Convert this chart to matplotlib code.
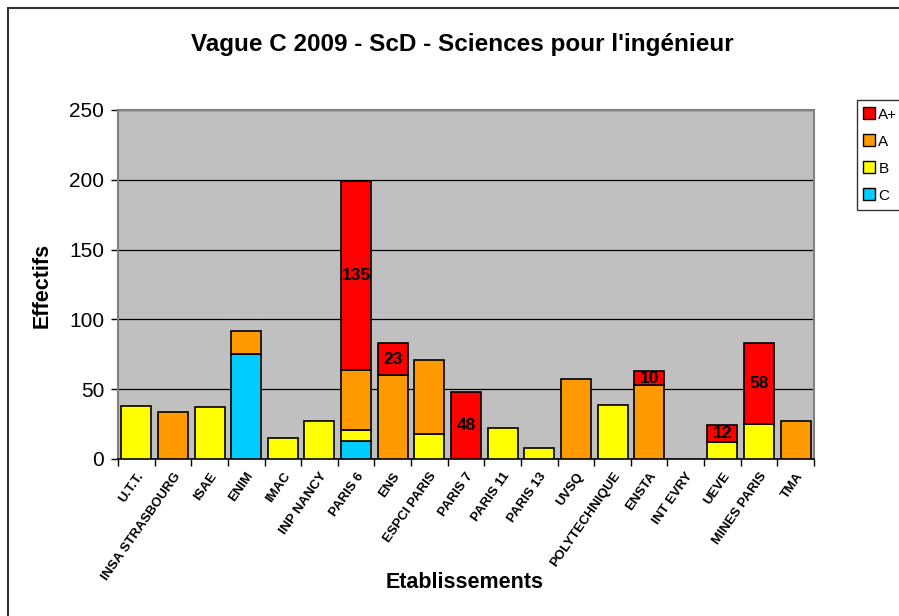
import matplotlib
matplotlib.use("Agg")
import matplotlib.pyplot as plt
import numpy as np
from matplotlib.patches import Rectangle
from matplotlib.lines import Line2D

plt.rcParams['font.family'] = ['Liberation Sans', 'DejaVu Sans']

categories = ["U.T.T.", "INSA STRASBOURG", "ISAE", "ENIM", "IMAC", "INP NANCY",
              "PARIS 6", "ENS", "ESPCI PARIS", "PARIS 7", "PARIS 11", "PARIS 13",
              "UVSQ", "POLYTECHNIQUE", "ENSTA", "INT EVRY", "UEVE", "MINES PARIS", "TMA"]
C_vals  = [0, 0, 0, 75, 0, 0, 13, 0, 0, 0, 0, 0, 0, 0, 0, 0, 0, 0, 0]
B_vals  = [38, 0, 37, 0, 15, 27, 8, 0, 18, 0, 22, 8, 0, 39, 0, 0, 12, 25, 0]
A_vals  = [0, 34, 0, 17, 0, 0, 43, 60, 53, 0, 0, 0, 57, 0, 53, 0, 0, 0, 27]
Ap_vals = [0, 0, 0, 0, 0, 0, 135, 23, 0, 48, 0, 0, 0, 0, 10, 0, 12, 58, 0]
series_names = ["A+", "A", "B", "C"]
y_ticks = [0, 50, 100, 150, 200, 250]

colors = {"A+": "#FF0000", "A": "#FF9900", "B": "#FFFF00", "C": "#00CCFF"}

W, H = 899, 616
fig = plt.figure(figsize=(W / 100, H / 100), dpi=100)
ax = fig.add_axes([118 / W, 1 - 459 / H, 696 / W, 349 / H])
ax.set_facecolor("#C0C0C0")

x = np.arange(len(categories))
bw = 0.82
bottom = np.zeros(len(categories))
stack = [("C", C_vals), ("B", B_vals), ("A", A_vals), ("A+", Ap_vals)]
for name, vals in stack:
    v = np.array(vals, dtype=float)
    mask = v > 0
    ax.bar(x[mask], v[mask], bw, bottom=bottom[mask], color=colors[name],
           edgecolor="black", linewidth=1.2, zorder=3)
    if name == "A+":
        for xi, vi, bi in zip(x[mask], v[mask], bottom[mask]):
            ax.text(xi, bi + vi / 2, f"{int(vi)}", ha="center", va="center",
                    fontsize=12.5, fontweight="bold", color="black", zorder=4)
    bottom += v

ax.set_xlim(-0.5, len(categories) - 0.5)
ax.set_ylim(0, 250)
ax.set_yticks(y_ticks)
ax.set_yticklabels([str(t) for t in y_ticks], fontsize=15)
ax.yaxis.grid(True, color="black", linewidth=0.9, zorder=1)
ax.set_axisbelow(True)
ax.tick_params(axis="y", direction="out", length=5, width=1, color="black", pad=5)

ax.set_xticks(np.arange(len(categories) + 1) - 0.5)
ax.set_xticklabels([])
ax.set_xticks(x, minor=True)
ax.set_xticklabels(categories, minor=True, rotation=55, ha="right",
                   rotation_mode="anchor", fontsize=9.5, fontweight="bold")
ax.tick_params(axis="x", which="major", direction="out", length=5, width=1, color="black")
ax.tick_params(axis="x", which="minor", length=0, pad=8)

for s in ["top", "right", "left"]:
    ax.spines[s].set_color("#808080")
    ax.spines[s].set_linewidth(1.5)
ax.spines["bottom"].set_color("black")
ax.spines["bottom"].set_linewidth(1.2)

fig.text(42 / W, 1 - 285 / H, "Effectifs", ha="center", va="center", rotation=90,
         fontsize=15.5, fontweight="bold")
fig.text(465 / W, 1 - 583 / H, "Etablissements", ha="center", va="center",
         fontsize=15.5, fontweight="bold")
fig.text(462 / W, 1 - 45 / H, "Vague C 2009 - ScD - Sciences pour l'ingénieur",
         ha="center", va="center", fontsize=17.5, fontweight="bold")

# outer chart border
fig.patches.append(Rectangle((8 / W, -0.05), 1.2, 1 - 8 / H + 0.05, transform=fig.transFigure,
                             fill=False, edgecolor="#333333", linewidth=1.5))

handles = [Line2D([0], [0], marker="s", linestyle="none", markersize=8,
                  markerfacecolor=colors[n], markeredgecolor="black", markeredgewidth=1)
           for n in series_names]
leg = fig.legend(handles, series_names, loc="upper left",
                 bbox_to_anchor=(857 / W, 1 - 100 / H), fontsize=11,
                 frameon=True, fancybox=False, edgecolor="black",
                 handlelength=0.6, handletextpad=0.3, labelspacing=0.85,
                 borderpad=0.5, borderaxespad=0)
leg.get_frame().set_linewidth(1)

fig.savefig("out.png", dpi=100)
